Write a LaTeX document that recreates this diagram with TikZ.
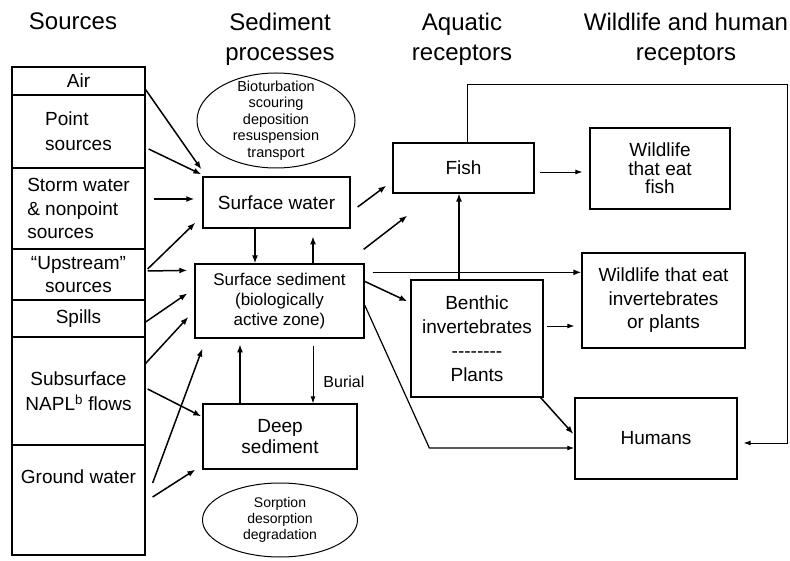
\documentclass[tikz,border=0pt]{standalone}
\usepackage{fontspec}
\setmainfont{Liberation Sans}
\usetikzlibrary{arrows.meta,positioning,shapes,calc}
\newcommand{\fsz}[2]{\fontsize{#1}{#2}\selectfont}

\begin{document}
\begin{tikzpicture}[x=1pt,y=1pt,
  src/.style={draw,line width=1.3pt,minimum width=133pt,inner sep=0pt,align=center,font=\fsz{19}{24}},
  box/.style={draw,line width=1.3pt,inner sep=0pt,align=center,font=\fsz{19}{23.5}},
  proc/.style={draw,ellipse,line width=1pt,inner sep=0pt,align=center,font=\fsz{14}{16.5}},
  hd/.style={align=center,font=\fsz{24}{30}},
  arr/.style={-{Latex[length=8pt,width=6pt]},line width=1.5pt},
  tarr/.style={-{Latex[length=7pt,width=5pt]},line width=0.9pt}]
\useasboundingbox (0,0) rectangle (790,560);

% headers
\node[hd,anchor=base] (hsrc) at (73,530) {Sources};
\node[hd] (hsed) at (280,520.5) {Sediment\\processes};
\node[hd] (haq) at (462,520.5) {Aquatic\\receptors};
\node[hd] (hwild) at (686,520.5) {Wildlife and human\\receptors};

% sources column
\node[src,minimum height=28pt] (air) at (78.5,479) {Air};
\node[src,minimum height=73pt,align=left,font=\fsz{19}{25}] (point) at (78.5,428.5) {Point\\sources};
\node[src,minimum height=81pt,align=left,font=\fsz{19}{23.5}] (storm) at (78.5,351.5) {Storm water\\\& nonpoint\\sources};
\node[src,minimum height=51pt,font=\fsz{19}{23}] (up) at (78.5,285.5) {“Upstream”\\sources};
\node[src,minimum height=37pt] (spills) at (78.5,241.5) {Spills};
\node[src,minimum height=108pt,font=\fsz{19}{25}] (subs) at (78.5,169) {Subsurface\\NAPL\textsuperscript{b} flows};
\node[src,minimum height=110pt] (ground) at (78.5,60) {};
\node[font=\fsz{19}{24}] (gtext) at (78.5,83) {Ground water};

% sediment processes
\node[proc,minimum width=158pt,minimum height=95pt,inner ysep=-8pt,font=\fsz{14.5}{16.5}] (ell1) at (276,439.5) {Bioturbation\\scouring\\deposition\\resuspension\\transport};
\node[box,minimum width=147pt,minimum height=51pt] (sw) at (276.5,357.5) {Surface water};
\node[box,minimum width=169pt,minimum height=74pt,font=\fsz{17}{20}] (ss) at (279.5,259) {Surface sediment\\(biologically\\active zone)};
\node[box,minimum width=154pt,minimum height=65pt,font=\fsz{19}{21}] (ds) at (280,123.5) {Deep\\sediment};
\node[proc,minimum width=155pt,minimum height=74pt,font=\fsz{14}{16}] (ell2) at (280,40) {Sorption\\desorption\\degradation};

% receptors
\node[box,minimum width=141pt,minimum height=50pt] (fish) at (463.5,392) {Fish};
\node[box,minimum width=132pt,minimum height=117pt,font=\fsz{19}{24}] (benth) at (477,221.5) {Benthic\\invertebrates\\\mbox{-}\mbox{-}\mbox{-}\mbox{-}\mbox{-}\mbox{-}\mbox{-}\mbox{-}\\Plants};
\node[box,minimum width=140pt,minimum height=81pt,font=\fsz{19}{18.5}] (wfish) at (660,391.5) {Wildlife\\that eat\\fish};
\node[box,minimum width=163pt,minimum height=95pt] (winv) at (663.5,259.5) {Wildlife that eat\\invertebrates\\or plants};
\node[box,minimum width=162pt,minimum height=81pt] (hum) at (656,121.5) {Humans};

% sources -> sediment
\draw[arr] ([yshift=6pt]air.south east) -- ([shift={(-1pt,7pt)}]sw.north west);
\draw[arr] ([shift={(3pt,-17.5pt)}]point.east) -- ([shift={(-1pt,2pt)}]sw.north west);
\draw[arr] ([shift={(8pt,9.5pt)}]storm.east) -- ([shift={(-8pt,3.5pt)}]sw.west);
\draw[arr] ([shift={(2pt,5.5pt)}]up.east) -- ([shift={(-7pt,6pt)}]sw.south west);
\draw[arr] ([shift={(2pt,3.5pt)}]up.east) -- ([shift={(-7pt,-7pt)}]ss.north west);
\draw[arr] ([yshift=-3.5pt]spills.east) -- ([shift={(-7pt,-30pt)}]ss.north west);
\draw[arr] ([yshift=-27pt]subs.north east) -- ([shift={(-6pt,-16pt)}]ss.west);
\draw[arr] ([shift={(2pt,2pt)}]subs.east) -- ([shift={(-1pt,-13pt)}]ds.north west);
\draw[arr] ([shift={(7pt,17pt)}]ground.east) -- ([shift={(8pt,-10pt)}]ss.south west);
\draw[arr] ([shift={(7pt,3pt)}]ground.east) -- ([xshift=-7pt]ds.south west);

% exchange between compartments
\draw[arr] ([xshift=-21.5pt]sw.south) -- ([xshift=-21.5pt]sw.south |- ss.north);
\draw[arr] ([xshift=33.5pt]ss.north) -- ++(0,27);
\draw[arr] ([xshift=-40pt]ds.north) -- ++(0,59);
\draw[tarr] ([xshift=33.5pt,yshift=-7pt]ss.south) -- ([xshift=33pt]ds.north)
  node[pos=0.62,anchor=west,xshift=10pt,inner sep=0pt,font=\fsz{16}{18}] (burial) {Burial};

% sediment -> receptors
\draw[arr] ([shift={(7pt,-4.5pt)}]sw.east) -- ([shift={(-6pt,8pt)}]fish.south west);
\draw[arr] ([shift={(-1pt,14pt)}]ss.north east) -- ([shift={(15pt,-22pt)}]fish.south west);
\draw[arr] ([shift={(8pt,-9pt)}]ss.north east) -- ([yshift=-20pt]winv.north west);
\draw[arr] ([yshift=-18pt]ss.north east) -- ([shift={(-3pt,-22pt)}]benth.north west);
\draw[tarr,line width=1.2pt] ([yshift=-4pt]ss.east) -- ([shift={(-145pt,-9.5pt)}]hum.west) -- ([yshift=-9.5pt]hum.west);
\draw[arr,line width=1.2pt] ([xshift=-18pt]benth.north) -- ([xshift=-18pt]benth.north |- fish.south);

% receptors -> wildlife and humans
\draw[tarr] ([shift={(5pt,-4pt)}]fish.east) -- ([shift={(-7pt,-3.5pt)}]wfish.west);
\draw[tarr] ([shift={(3pt,12.5pt)}]benth.east) -- ([shift={(-7pt,-25.5pt)}]winv.west);
\draw[arr] ([xshift=-3pt]benth.south east) -- ([shift={(-1pt,4.5pt)}]hum.west);
\draw[tarr] ([xshift=3.5pt]fish.north) -- ++(0,58) -| ([shift={(50pt,-4.5pt)}]hum.east) -- ([shift={(6pt,-4.5pt)}]hum.east);
\end{tikzpicture}
\end{document}
